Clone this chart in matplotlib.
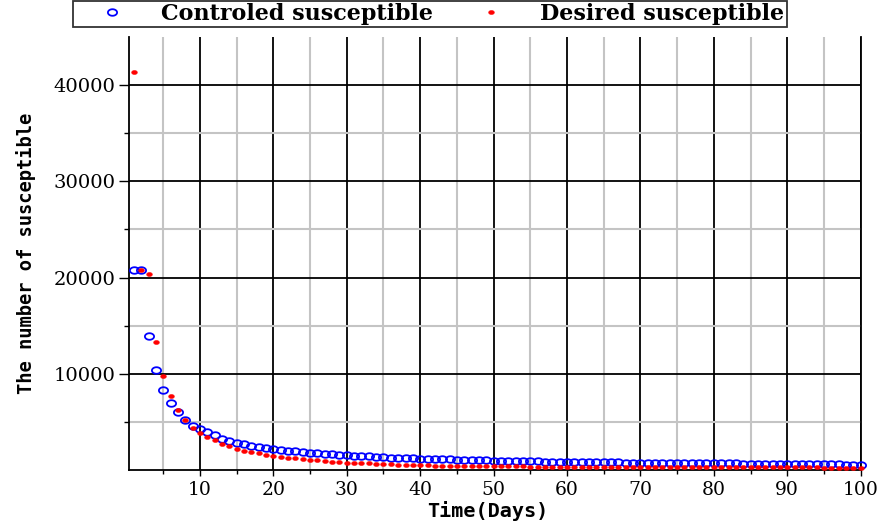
import numpy as np
import matplotlib
matplotlib.use("Agg")
import matplotlib.pyplot as plt
from matplotlib.path import Path

# ---------- Data ----------
days = list(range(1, 101))

controlled = [
    20730, 20730, 13870, 10420, 8340, 6960, 5980, 5220, 4600, 4250,
    3900, 3600, 3260, 3050, 2850, 2710, 2530, 2400, 2290, 2150,
    2070, 1990, 1920, 1860, 1800, 1740, 1690, 1640, 1580, 1520,
    1480, 1440, 1400, 1360, 1310, 1290, 1260, 1230, 1200, 1180,
    1160, 1130, 1110, 1090, 1070, 1050, 1030, 1010, 990, 970,
    960, 940, 930, 910, 900, 890, 870, 860, 850, 830,
    820, 820, 810, 800, 790, 790, 780, 770, 770, 760,
    750, 750, 740, 730, 730, 720, 710, 710, 700, 690,
    680, 680, 670, 660, 650, 640, 630, 620, 610, 600,
    600, 590, 590, 580, 580, 570, 570, 560, 560, 550,
]

desired = [
    41400, 20730, 20350, 13290, 9790, 7640, 6190, 5150, 4390, 3840,
    3390, 3070, 2700, 2450, 2200, 2010, 1860, 1720, 1570, 1440,
    1360, 1280, 1200, 1120, 1050, 990, 930, 870, 810, 760,
    730, 700, 670, 630, 600, 580, 550, 530, 500, 480,
    470, 460, 450, 440, 430, 420, 410, 400, 390, 380,
    375, 370, 365, 360, 350, 345, 340, 330, 320, 310,
    310, 310, 310, 305, 305, 300, 300, 300, 300, 300,
    295, 295, 290, 290, 285, 285, 280, 280, 275, 275,
    275, 270, 270, 270, 270, 270, 265, 265, 265, 265,
    260, 260, 255, 255, 250, 250, 245, 245, 240, 240,
]

x_major = [10, 20, 30, 40, 50, 60, 70, 80, 90, 100]
x_minor = [5, 15, 25, 35, 45, 55, 65, 75, 85, 95]
y_major = [10000, 20000, 30000, 40000]
y_minor = [5000, 15000, 25000, 35000]

# wide (stretched) ellipse marker, like the squashed circles in the source
th = np.linspace(0, 2 * np.pi, 41)
ellipse = Path(np.column_stack([1.4 * np.cos(th), np.sin(th)]), closed=True)

# ---------- Figure ----------
fig = plt.figure(figsize=(8.86, 5.21), dpi=100)
ax = fig.add_axes([0.1459, 0.098, 0.8255, 0.831])

ax.set_xlim(0.37, 100)
ax.set_ylim(0, 45000)

ax.set_xticks(x_major)
ax.set_xticks(x_minor, minor=True)
ax.set_yticks(y_major)
ax.set_yticks(y_minor, minor=True)

ax.grid(which="minor", color="#c4c4c4", lw=1.5, zorder=0)
ax.grid(which="major", color="black", lw=1.3, zorder=0)
ax.set_axisbelow(True)

ax.tick_params(axis="y", which="major", length=7.2, width=1.0, pad=3,
               labelsize=14, labelfontfamily="DejaVu Serif")
ax.tick_params(axis="y", which="minor", length=3.6, width=1.0)
ax.tick_params(axis="x", which="major", length=4.5, width=1.0, pad=3.5,
               labelsize=13.5, labelfontfamily="DejaVu Serif")
ax.tick_params(axis="x", which="minor", length=3, width=1.0)

ax.spines["top"].set_visible(False)
for s in ["left", "bottom", "right"]:
    ax.spines[s].set_linewidth(1.3)
    ax.spines[s].set_color("black")

ax.plot(days, controlled, ls="none", marker=ellipse, ms=6.6,
        mfc="none", mec="blue", mew=1.3, clip_on=False, zorder=3,
        label="Controled susceptible")
ax.plot(days, desired, ls="none", marker=ellipse, ms=4.2,
        mfc="red", mec="red", mew=0.3, clip_on=False, zorder=4,
        label="Desired susceptible")

ax.set_xlabel("Time(Days)", fontsize=14.5, fontweight="bold",
              family="DejaVu Sans Mono", va="top")
ax.xaxis.set_label_coords(0.49, -0.071)
ax.set_ylabel("The number of susceptible", fontsize=13.5, fontweight="bold",
              family="DejaVu Sans Mono")
ax.yaxis.set_label_coords(-0.128, 0.5)

leg = fig.legend(loc="upper center", bbox_to_anchor=(0.485, 0.998), ncol=2,
                 frameon=True, fancybox=False, edgecolor="black",
                 handlelength=3.3, handletextpad=0.55, columnspacing=1.0,
                 borderpad=0.1, borderaxespad=0,
                 prop={"family": "DejaVu Serif", "weight": "bold", "size": 16})
leg.get_frame().set_linewidth(1.3)

fig.savefig("out.png", dpi=100)
